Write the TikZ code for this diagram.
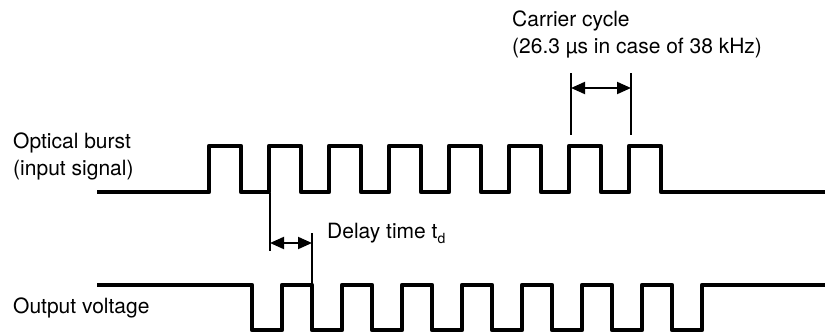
\documentclass[tikz,border=0pt]{standalone}
\usepackage{fontspec}
\setmainfont{TeX Gyre Heros}
\usepackage{tikz}
\usetikzlibrary{arrows.meta,positioning}

\begin{document}
\begin{tikzpicture}[
    x=1pt, y=-1pt,
    signal/.style={line width=4.5pt, line join=round},
    guide/.style={line width=1.2pt},
    dimarrow/.style={{Triangle[length=14pt,width=12pt]}-{Triangle[length=14pt,width=12pt]}, line width=2pt},
    label/.style={align=left, inner sep=0pt, font=\fontsize{21}{26.5}\selectfont}
]
\useasboundingbox (0,0) rectangle (827,335);
% labels
\node[label, anchor=base west] (burst) at (13,175) {Optical burst\\(input signal)};
\node[label, anchor=base west] (output) at (13,313) {Output voltage};
\node[label, anchor=base west] (carrier) at (512,53) {Carrier cycle\\(26.3 µs in case of 38 kHz)};
\node[label, anchor=base west] (delay) at (327,238) {Delay time t\raisebox{-5pt}{\fontsize{14}{14}\selectfont d}};
% input burst
\draw[signal] (97,192) \foreach \k in {0,...,7} {
    -- ({209+60*\k},192) -- ({209+60*\k},146) -- ({241+60*\k},146) -- ({241+60*\k},192)
} -- (825,192);
% output voltage
\draw[signal] (97,285) \foreach \k in {0,...,7} {
    -- ({252+60*\k},285) -- ({252+60*\k},330) -- ({282+60*\k},330) -- ({282+60*\k},285)
} -- (825,285);
% carrier cycle
\coordinate (c1top) at (571,73);
\coordinate (c1bot) at (571,135);
\coordinate (c2top) at (631,73);
\coordinate (c2bot) at (631,135);
\coordinate (c1arr) at (571,88);
\coordinate (c2arr) at (631,88);
\draw[guide] (c1top) -- (c1bot);
\draw[guide] (c2top) -- (c2bot);
\draw[dimarrow] (c1arr) -- (c2arr);
% delay time
\coordinate (d1top) at (270,193);
\coordinate (d1bot) at (270,251);
\coordinate (d2top) at (312,233);
\coordinate (d2bot) at (312,284);
\coordinate (d1arr) at (270,243);
\coordinate (d2arr) at (312,243);
\draw[guide] (d1top) -- (d1bot);
\draw[guide] (d2top) -- (d2bot);
\draw[dimarrow] (d1arr) -- (d2arr);
\end{tikzpicture}
\end{document}
